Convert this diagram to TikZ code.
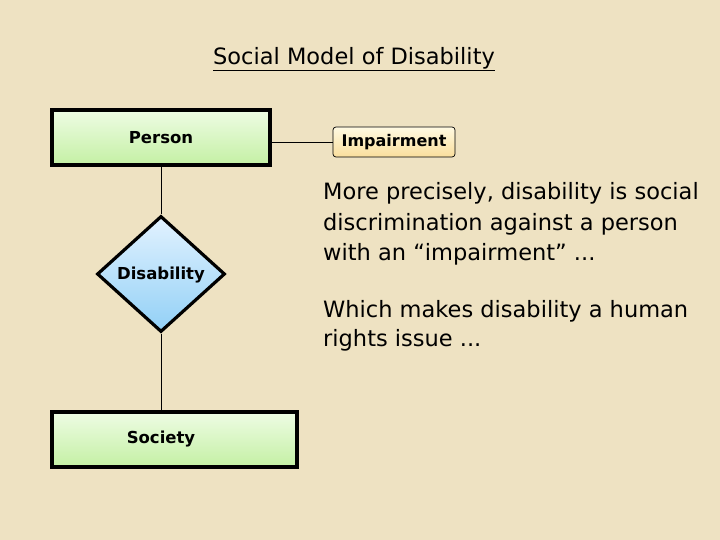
\documentclass[tikz,border=0pt]{standalone}
\usepackage{fontspec}
\setmainfont{DejaVu Sans}
\usetikzlibrary{shapes.geometric}
\definecolor{bg}{RGB}{238,226,194}
\definecolor{gtop}{RGB}{238,252,228}
\definecolor{gbot}{RGB}{196,240,164}
\definecolor{btop}{RGB}{226,242,255}
\definecolor{bbot}{RGB}{146,208,246}
\definecolor{ytop}{RGB}{255,250,226}
\definecolor{ybot}{RGB}{250,222,156}
\tikzset{
  entbox/.style={draw=black, line width=3.2pt, top color=gtop, bottom color=gbot, inner sep=0pt},
  relshape/.style={diamond, draw=black, line width=3.2pt, top color=btop, bottom color=bbot, inner sep=0pt, minimum width=128pt, minimum height=116pt},
  attrbox/.style={draw=black, line width=0.7pt, rounded corners=3pt, top color=ytop, bottom color=ybot, inner sep=0pt, minimum width=122pt, minimum height=30pt, font=\fontsize{16}{18}\selectfont\bfseries},
  lbl/.style={font=\fontsize{16.5}{18}\selectfont\bfseries},
  body/.style={font=\fontsize{22.5}{30}\selectfont, anchor=base west, inner sep=0pt},
  conn/.style={draw=black, line width=0.7pt}
}
\begin{document}
\begin{tikzpicture}[x=1pt,y=-1pt]
\fill[bg] (0,0) rectangle (720,540);
\useasboundingbox (0,0) rectangle (720,540);
\node[font=\fontsize{22.5}{26}\selectfont] (title) at (354,59) {\underline{Social Model of Disability}};
\node[entbox, minimum width=218pt, minimum height=55pt] (person) at (161,137.5) {};
\node[lbl] (personlbl) at (161,138) {Person};
\node[attrbox] (imp) at (394,142) {Impairment};
\node[relshape] (dis) at (161,274) {};
\node[lbl] (dislbl) at (161,275) {Disability};
\node[entbox, minimum width=245pt, minimum height=55pt] (soc) at (174.5,439.5) {};
\node[lbl] (soclbl) at (161,439) {Society};
\draw[conn] (imp.west) -- (imp.west -| person.east);
\draw[conn] (person.south) -- (dis.north);
\draw[conn] (dis.south) -- (dis.south |- soc.north);
\node[body] (t1a) at (323,200) {More precisely, disability is social};
\node[body] (t1b) at (323,230) {discrimination against a person};
\node[body] (t1c) at (323,260) {with an “impairment” ...};
\node[body] (t2a) at (323,317) {Which makes disability a human};
\node[body] (t2b) at (323,346) {rights issue ...};
\end{tikzpicture}
\end{document}
